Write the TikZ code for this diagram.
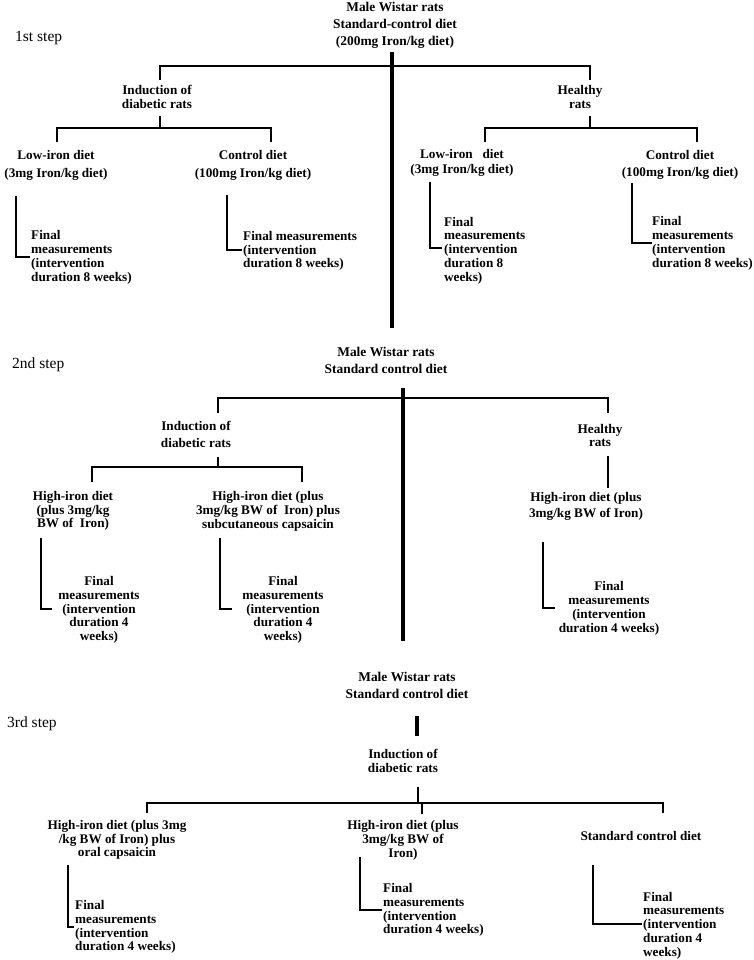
\documentclass[tikz,border=0pt]{standalone}
\usepackage{fontspec}
\setmainfont{Liberation Serif}

\tikzset{
  branch/.style={line width=2.9pt},
  trunk/.style={line width=4pt},
  boxtext/.style={font=\bfseries\fontsize{13.2}{13.8}\selectfont, align=center, inner sep=0pt},
  titletext/.style={boxtext, font=\bfseries\fontsize{13.4}{17}\selectfont},
  finaltext/.style={boxtext, align=left, anchor=west},
  stagetext/.style={font=\fontsize{15.5}{18}\selectfont, anchor=west, inner sep=0pt}
}

\begin{document}
\begin{tikzpicture}[x=1pt, y=-1pt]
    \useasboundingbox (0,0) rectangle (753,960);

    % ---------- 1st step ----------
    \node[stagetext] (stage1) at (15,38) {1st step};
    \node[titletext] (s1title) at (395,25) {Male Wistar rats\\Standard-control diet\\(200mg Iron/kg diet)};

    \coordinate (s1top) at (392,52);
    \coordinate (s1bot) at (392,328);
    \coordinate (s1hub) at (392,66);
    \coordinate (s1a) at (160,80);
    \coordinate (s1b) at (590,80);

    \draw[trunk] (s1top) -- (s1bot);
    \draw[branch] (s1a) |- (s1hub) -| (s1b);

    \node[boxtext] (s1diab) at (157,97) {Induction of\\diabetic rats};
    \node[boxtext] (s1healthy) at (580,97) {Healthy\\rats};

    \coordinate (s1c) at (160,116);
    \coordinate (s1cbar) at (160,128);
    \coordinate (s1cl) at (57,142);
    \coordinate (s1cr) at (271,142);
    \draw[branch] (s1c) -- (s1cbar);
    \draw[branch] (s1cl) |- (s1cbar) -| (s1cr);

    \coordinate (s1d) at (590,116);
    \coordinate (s1dbar) at (590,128);
    \coordinate (s1dl) at (485,142);
    \coordinate (s1dr) at (697,142);
    \draw[branch] (s1d) -- (s1dbar);
    \draw[branch] (s1dl) |- (s1dbar) -| (s1dr);

    \node[boxtext] (s1low) at (56,165) {Low-iron diet\\[4pt](3mg Iron/kg diet)};
    \node[boxtext] (s1ctrl) at (253,165) {Control diet\\[4pt](100mg Iron/kg diet)};
    \node[boxtext] (s1hlow) at (462,163) {Low-iron~~~diet\\[1pt](3mg Iron/kg diet)};
    \node[boxtext] (s1hctrl) at (680,165) {Control diet\\[3pt](100mg Iron/kg diet)};

    \draw[branch] (16,196) coordinate (s1e1) |- (30,257) coordinate (s1f1);
    \draw[branch] (227,195) coordinate (s1e2) |- (242,250) coordinate (s1f2);
    \draw[branch] (430,182) coordinate (s1e3) |- (442,248) coordinate (s1f3);
    \draw[branch] (632,183) coordinate (s1e4) |- (652,243) coordinate (s1f4);

    \node[finaltext] (s1fin1) at (31,257.5) {Final\\measurements\\(intervention\\duration 8 weeks)};
    \node[finaltext] (s1fin2) at (243,251) {Final measurements\\(intervention\\duration 8 weeks)};
    \node[finaltext] (s1fin3) at (444,250.5) {Final\\measurements\\(intervention\\duration 8\\weeks)};
    \node[finaltext] (s1fin4) at (652,243.5) {Final\\measurements\\(intervention\\duration 8 weeks)};

    % ---------- 2nd step ----------
    \node[stagetext] (stage2) at (12,365) {2nd step};
    \node[titletext] (s2title) at (386,360) {Male Wistar rats\\Standard control diet};

    \coordinate (s2top) at (403,388);
    \coordinate (s2bot) at (403,641);
    \coordinate (s2hub) at (403,398);
    \coordinate (s2a) at (218,413);
    \coordinate (s2b) at (608,413);

    \draw[trunk] (s2top) -- (s2bot);
    \draw[branch] (s2a) |- (s2hub) -| (s2b);

    \node[boxtext] (s2diab) at (196,434.5) {Induction of\\[4pt]diabetic rats};
    \node[boxtext] (s2healthy) at (600,435.5) {Healthy\\rats};

    \coordinate (s2c) at (218,457);
    \coordinate (s2cbar) at (218,467);
    \coordinate (s2cl) at (92,482);
    \coordinate (s2cr) at (302,482);
    \draw[branch] (s2c) -- (s2cbar);
    \draw[branch] (s2cl) |- (s2cbar) -| (s2cr);

    \coordinate (s2d) at (608,456);
    \coordinate (s2e) at (608,488);
    \draw[branch] (s2d) -- (s2e);

    \node[boxtext] (s2hi1) at (73,511) {High-iron diet\\(plus 3mg/kg\\BW of~ Iron)};
    \node[boxtext] (s2hi2) at (268,511.5) {High-iron diet (plus\\3mg/kg BW of~ Iron) plus\\subcutaneous capsaicin};
    \node[boxtext] (s2hi3) at (586,506.5) {High-iron diet (plus\\[2pt]3mg/kg BW of Iron)};

    \draw[branch] (41,538) coordinate (s2e1) |- (52,609) coordinate (s2f1);
    \draw[branch] (220,538) coordinate (s2e2) |- (232,609) coordinate (s2f2);
    \draw[branch] (543,542) coordinate (s2e3) |- (555,608) coordinate (s2f3);

    \node[boxtext] (s2fin1) at (99,610) {Final\\measurements\\(intervention\\duration 4\\weeks)};
    \node[boxtext] (s2fin2) at (283,610) {Final\\measurements\\(intervention\\duration 4\\weeks)};
    \node[boxtext] (s2fin3) at (609,608.5) {Final\\measurements\\(intervention\\duration 4 weeks)};

    % ---------- 3rd step ----------
    \node[stagetext] (stage3) at (7,724) {3rd step};
    \node[titletext] (s3title) at (407,685) {Male Wistar rats\\Standard control diet};

    \coordinate (s3top) at (417,716);
    \coordinate (s3mid) at (417,736);
    \draw[trunk] (s3top) -- (s3mid);

    \node[boxtext] (s3diab) at (403,761) {Induction of\\diabetic rats};

    \coordinate (s3c) at (418,787);
    \coordinate (s3hub) at (418,803);
    \coordinate (s3l) at (147,813);
    \coordinate (s3m) at (422,814);
    \coordinate (s3r) at (663,813);
    \draw[branch] (s3c) -- (s3hub);
    \draw[branch] (s3l) |- (s3hub) -| (s3r);
    \draw[branch] (s3m) -- (s3m |- s3hub);

    \node[boxtext] (s3hi1) at (117,840) {High-iron diet (plus 3mg\\/kg BW of Iron) plus\\oral capsaicin};
    \node[boxtext] (s3hi2) at (403,840.5) {High-iron diet (plus\\3mg/kg BW of\\Iron)};
    \node[boxtext] (s3std) at (641,835.5) {Standard control diet};

    \draw[branch] (68,865) coordinate (s3e1) |- (74,927) coordinate (s3f1);
    \draw[branch] (360,857) coordinate (s3e2) |- (382,910) coordinate (s3f2);
    \draw[branch] (593,865) coordinate (s3e3) |- (642,924) coordinate (s3f3);

    \node[finaltext] (s3fin1) at (75,927) {Final\\measurements\\(intervention\\duration 4 weeks)};
    \node[finaltext] (s3fin2) at (383,910) {Final\\measurements\\(intervention\\duration 4 weeks)};
    \node[finaltext] (s3fin3) at (643,925.5) {Final\\measurements\\(intervention\\duration 4\\weeks)};

\end{tikzpicture}
\end{document}
